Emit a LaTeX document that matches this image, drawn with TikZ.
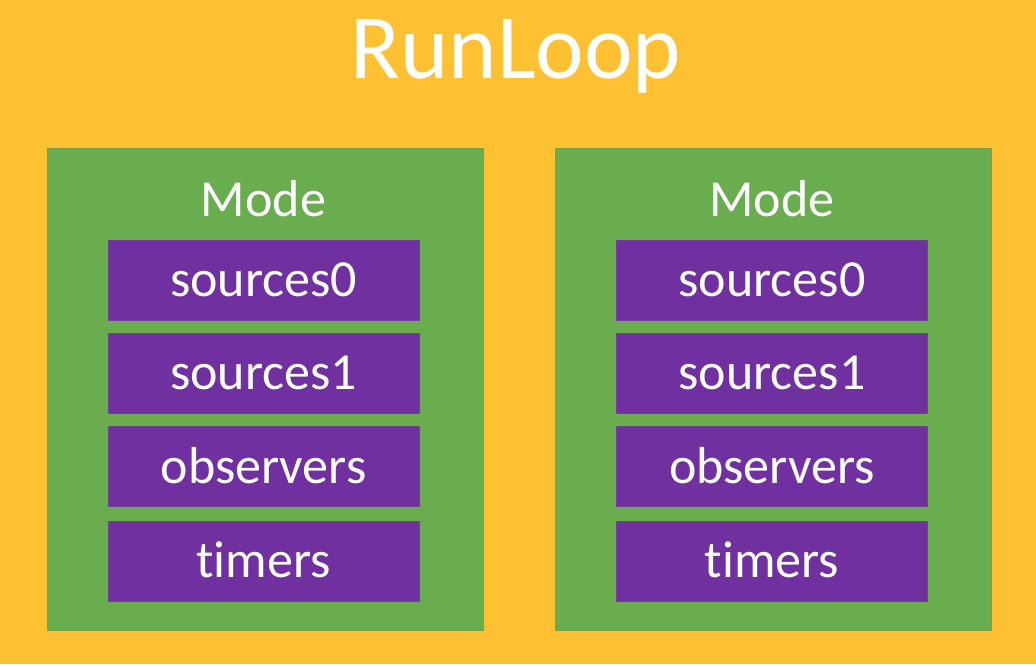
\documentclass[tikz,border=0pt]{standalone}
\usepackage{fontspec}
\setmainfont{Carlito}[Ligatures={NoCommon}]
\usetikzlibrary{positioning}
\definecolor{loopgold}{RGB}{255,193,52}
\definecolor{modegreen}{RGB}{106,173,79}
\definecolor{slotpurple}{RGB}{112,48,160}
\tikzstyle{modebg}=[fill=modegreen,draw=modegreen!85!gray,line width=0.6pt,minimum width=436pt,minimum height=482pt,inner sep=0pt]
\tikzstyle{slot}=[fill=slotpurple,draw=slotpurple!80!gray,line width=0.6pt,minimum width=311pt,minimum height=80pt,inner sep=0pt,text height=33pt,text depth=0pt]
\newcommand{\modebox}[3]{%
    \node[modebg] (#1) at (#2,389) {};
    \node[anchor=base] (#1title) at (#3,216) {Mode};
    \node[slot] (#1src0) at (#3,280) {sources0};
    \node[slot,below=12.5pt of #1src0] (#1src1) {sources1};
    \node[slot,below=13pt of #1src1] (#1obs) {observers};
    \node[slot,below=14pt of #1obs] (#1tim) {timers};
}
\tikzset{
	every node/.append style={text=white,font=\fontsize{52}{60}\selectfont},
}

\begin{document}
\begin{tikzpicture}[x=1pt,y=-1pt]
    % run loop frame
    \fill[loopgold] (0,0) rectangle (1036,664);
    \useasboundingbox (0,0) rectangle (1036,664);
    \node[anchor=base,font=\fontsize{92}{100}\selectfont] (runloop) at (516,78) {RunLoop};
    
    % the two modes
    \modebox{left}{265}{263.5}
    \modebox{right}{773}{772}
\end{tikzpicture}
\end{document}
